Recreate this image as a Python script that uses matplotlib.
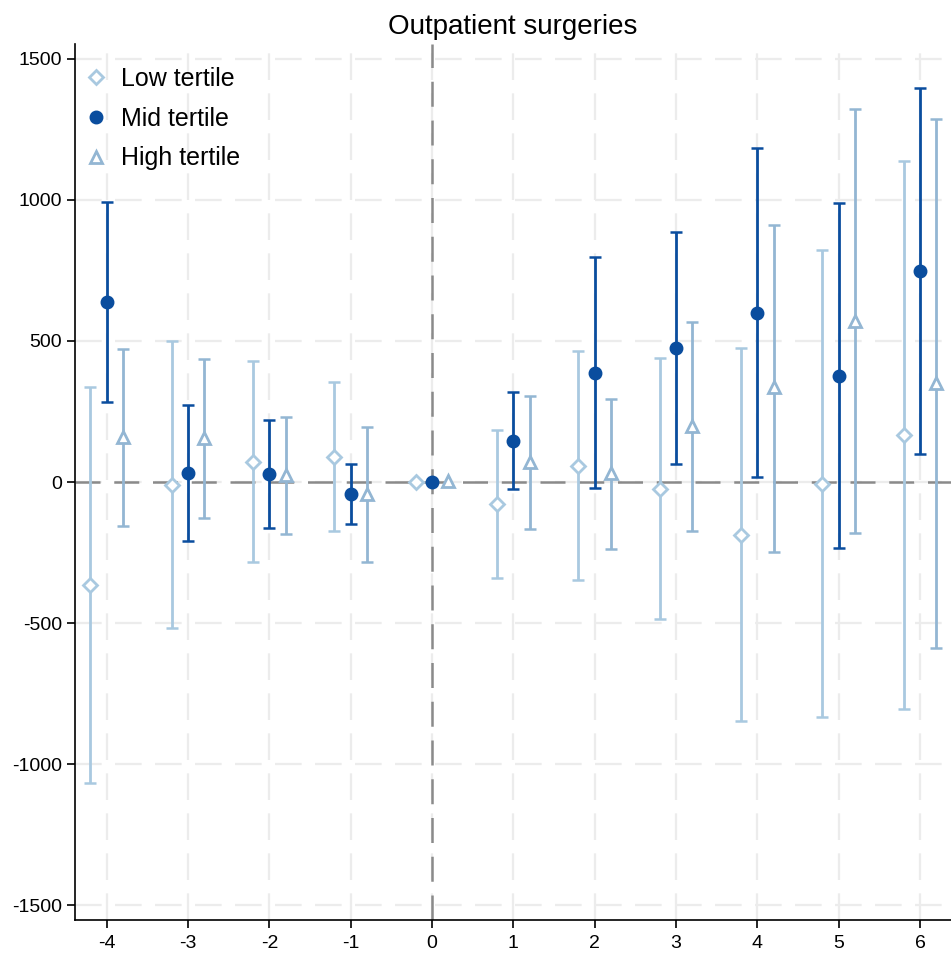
import numpy as np
import matplotlib
matplotlib.use("Agg")
import matplotlib.pyplot as plt

# ---------------------------------------------------------------------------
# Event-study estimates
periods = [-4, -3, -2, -1, 0, 1, 2, 3, 4, 5, 6]

low_est = [-365, -10, 70, 88, 0, -78, 57, -25, -188, -7, 167]
low_hi  = [337, 500, 430, 355, 0, 184, 465, 440, 475, 823, 1138]
low_lo  = [-1067, -518, -285, -175, 0, -340, -348, -486, -848, -833, -805]

mid_est = [638, 32, 28, -43, 0, 145, 387, 475, 600, 376, 748]
mid_hi  = [993, 273, 220, 64, 0, 319, 798, 887, 1184, 989, 1397]
mid_lo  = [284, -209, -163, -149, 0, -25, -21, 64, 18, -235, 99]

high_est = [160, 156, 25, -43, 5, 71, 32, 199, 337, 571, 351]
high_hi  = [471, 436, 231, 195, 5, 305, 294, 567, 911, 1323, 1287]
high_lo  = [-156, -128, -184, -284, 5, -167, -238, -174, -248, -181, -589]

y_ticks = [-1500, -1000, -500, 0, 500, 1000, 1500]
# ---------------------------------------------------------------------------

plt.rcParams['font.family'] = ['Liberation Sans', 'DejaVu Sans']
plt.rcParams['axes.unicode_minus'] = False

fig = plt.figure(figsize=(9.51, 9.59), dpi=100)
ax = fig.add_axes([75 / 951, 1 - 920 / 959, 876 / 951, 876 / 959])

x = np.array(periods, dtype=float)

# Grid & reference lines
for yt in y_ticks:
    ax.axhline(yt, color="#ececec", lw=1.6, ls=(0, (12, 6)), zorder=0)
for xt in periods:
    ax.axvline(xt, color="#ececec", lw=1.6, ls=(0, (12, 6)), zorder=0)
ax.axhline(0, color="#8a8a8a", lw=1.8, ls=(0, (10, 5.5)), zorder=1)
ax.axvline(0, color="#8a8a8a", lw=1.8, ls=(0, (10, 5.5)), zorder=1)

series = [
    ("Low tertile",  x - 0.2, low_est,  low_lo,  low_hi,  "#a9c9e0", "D", "none", 7),
    ("Mid tertile",  x,       mid_est,  mid_lo,  mid_hi,  "#0a4d9e", "o", "#0a4d9e", 8),
    ("High tertile", x + 0.2, high_est, high_lo, high_hi, "#93b6d3", "^", "none", 8),
]

for label, xs, est, lo, hi, col, mk, fc, ms in series:
    est = np.array(est); lo = np.array(lo); hi = np.array(hi)
    has_ci = hi != lo
    ax.errorbar(xs[has_ci], est[has_ci], yerr=[est[has_ci] - lo[has_ci], hi[has_ci] - est[has_ci]],
                fmt="none", ecolor=col, elinewidth=2, capsize=4.5, capthick=1.8, zorder=3)
    ax.plot(xs, est, ls="none", marker=mk, ms=ms, mfc=fc if fc != "none" else "white",
            mec=col, mew=2, color=col, label=label, zorder=4)

ax.set_xlim(-4.39, 6.38)
ax.set_ylim(-1553, 1553)
ax.set_xticks(periods)
ax.set_yticks(y_ticks)
ax.tick_params(labelsize=14, length=6, width=1.2)
ax.tick_params(axis="x", pad=5)
for s in ["top", "right"]:
    ax.spines[s].set_visible(False)
for s in ["left", "bottom"]:
    ax.spines[s].set_linewidth(1.2)

ax.set_title("Outpatient surgeries", fontsize=20, pad=7)

ax.legend(loc="upper left", bbox_to_anchor=(-0.013, 1.0), frameon=False, fontsize=18,
          handletextpad=0.6, borderaxespad=0.3, borderpad=0.6, labelspacing=0.64,
          handlelength=0.8)

plt.savefig("out.png", dpi=100)
